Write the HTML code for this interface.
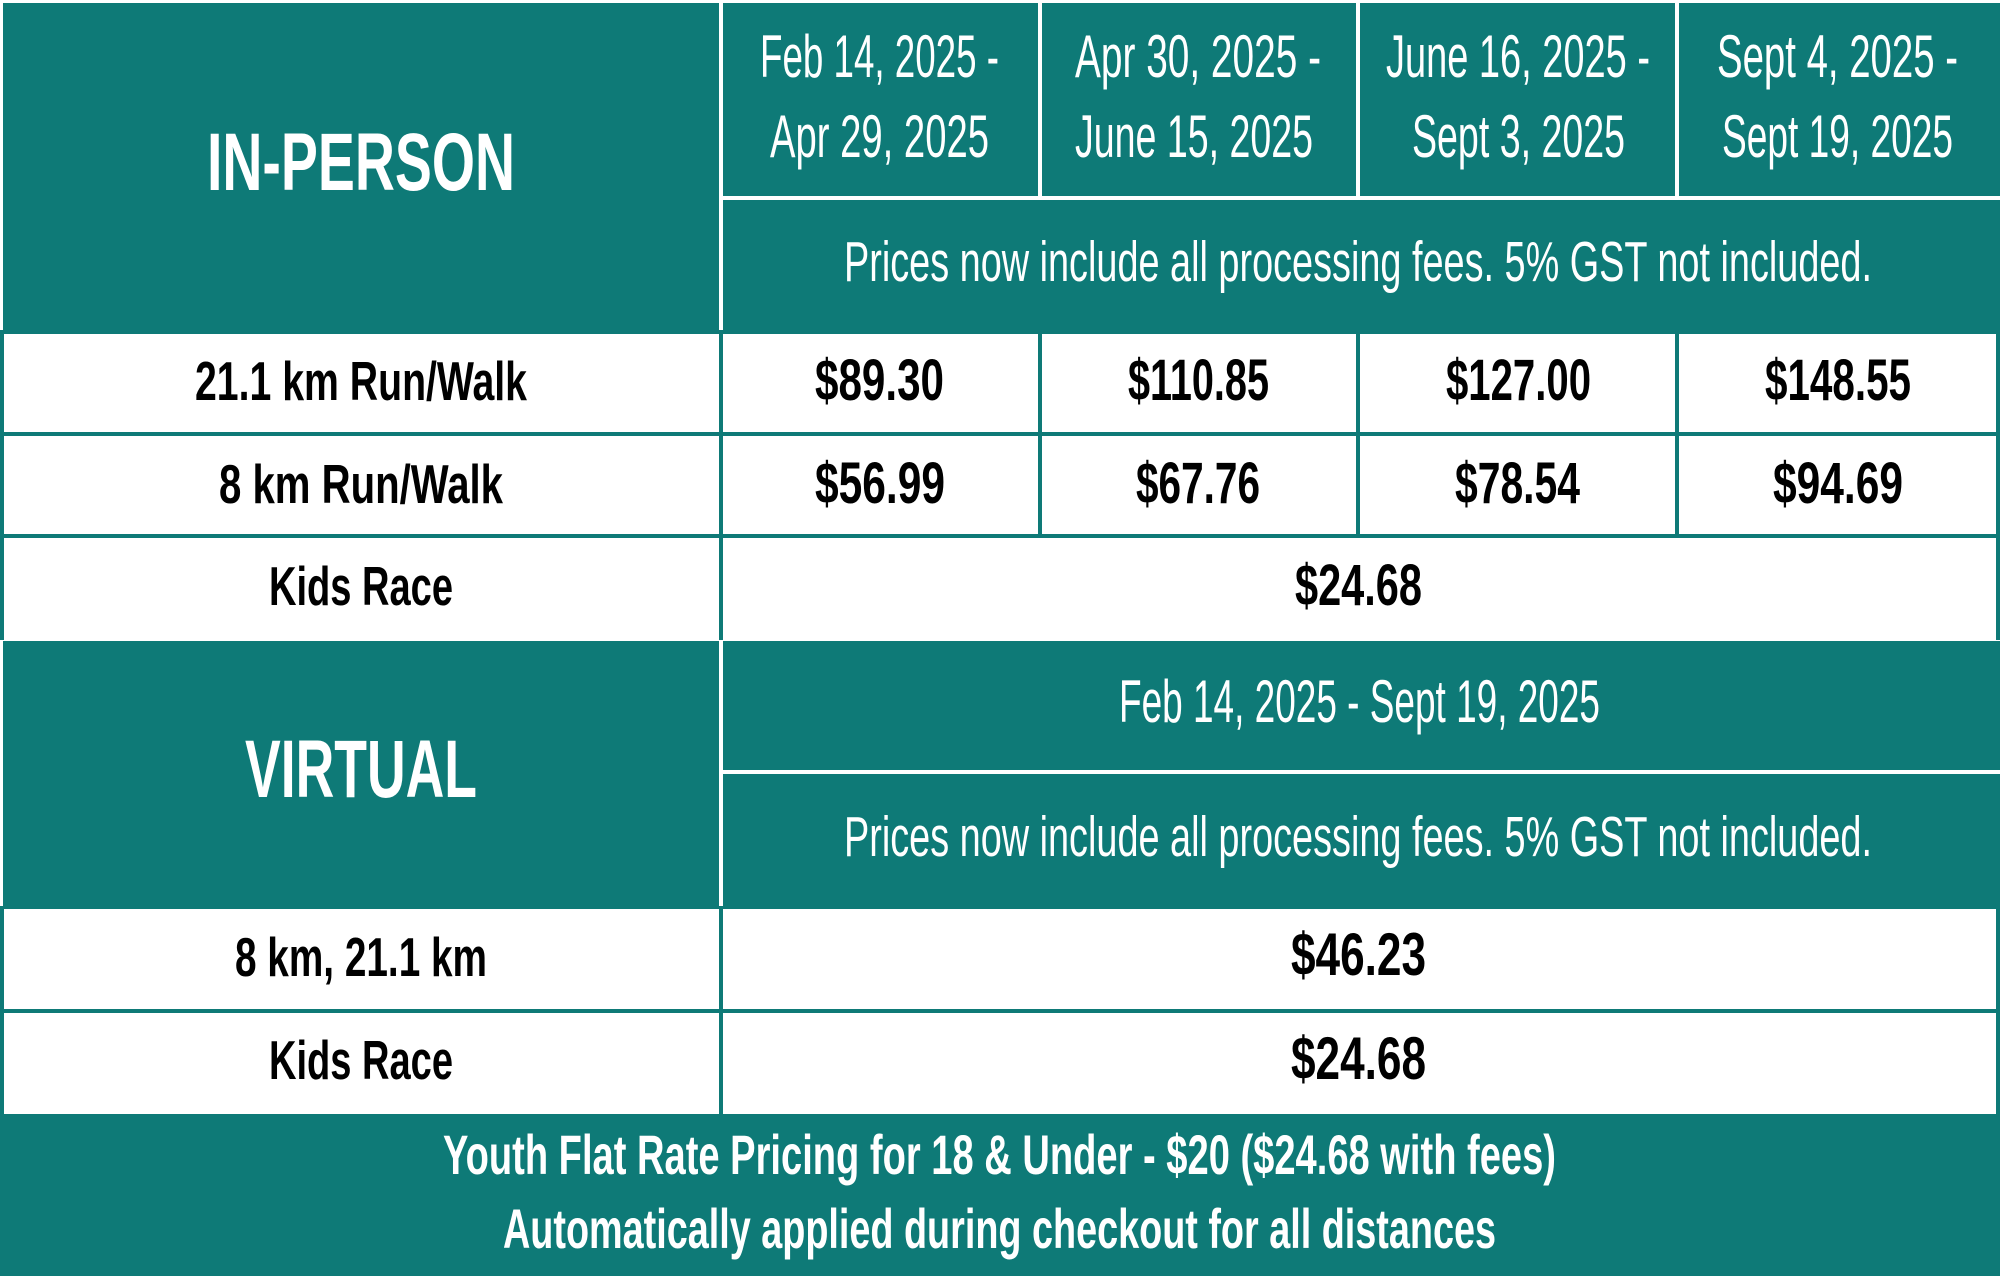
<!DOCTYPE html>
<html><head><meta charset="utf-8"><style>html,body{margin:0;padding:0;background:#fff}svg{display:block}text{font-family:"Liberation Sans",sans-serif}</style></head>
<body>
<svg width="2000" height="1276" viewBox="0 0 2000 1276" xmlns="http://www.w3.org/2000/svg">
<rect x="0" y="0" width="2000" height="1276" fill="#fff"/>
<!-- in-person header blocks -->
<rect x="3" y="3" width="716" height="327" fill="#0e7a77"/>
<rect x="723" y="3" width="315" height="193" fill="#0e7a77"/>
<rect x="1042" y="3" width="314" height="193" fill="#0e7a77"/>
<rect x="1360" y="3" width="315" height="193" fill="#0e7a77"/>
<rect x="1679" y="3" width="321" height="193" fill="#0e7a77"/>
<rect x="723" y="200" width="1277" height="130" fill="#0e7a77"/>
<!-- in-person white rows grid lines -->
<g fill="#0e7a77">
<rect x="0" y="330" width="2000" height="4"/>
<rect x="0" y="432" width="2000" height="4"/>
<rect x="0" y="534" width="2000" height="4"/>
<rect x="0" y="330" width="4" height="310"/>
<rect x="1996" y="330" width="4" height="310"/>
<rect x="719" y="330" width="4" height="310"/>
<rect x="1038" y="330" width="4" height="206"/>
<rect x="1356" y="330" width="4" height="206"/>
<rect x="1675" y="330" width="4" height="206"/>
</g>
<!-- virtual blocks -->
<rect x="3" y="641" width="716" height="265" fill="#0e7a77"/>
<rect x="723" y="641" width="1277" height="129" fill="#0e7a77"/>
<rect x="723" y="774" width="1277" height="132" fill="#0e7a77"/>
<g fill="#0e7a77">
<rect x="0" y="906" width="2000" height="3"/>
<rect x="0" y="1009" width="2000" height="4"/>
<rect x="0" y="906" width="4" height="210"/>
<rect x="1996" y="906" width="4" height="210"/>
<rect x="719" y="906" width="4" height="210"/>
</g>
<rect x="0" y="1114" width="2000" height="162" fill="#0e7a77"/>

<!-- header text -->
<g fill="#fff" font-size="60" lengthAdjust="spacingAndGlyphs">
<text x="760" y="77" textLength="239" lengthAdjust="spacingAndGlyphs">Feb 14, 2025 -</text>
<text x="770" y="157" textLength="219" lengthAdjust="spacingAndGlyphs">Apr 29, 2025</text>
<text x="1075" y="77" textLength="246" lengthAdjust="spacingAndGlyphs">Apr 30, 2025 -</text>
<text x="1075" y="157" textLength="238" lengthAdjust="spacingAndGlyphs">June 15, 2025</text>
<text x="1386" y="77" textLength="264" lengthAdjust="spacingAndGlyphs">June 16, 2025 -</text>
<text x="1412" y="157" textLength="213" lengthAdjust="spacingAndGlyphs">Sept 3, 2025</text>
<text x="1717" y="77" textLength="241" lengthAdjust="spacingAndGlyphs">Sept 4, 2025 -</text>
<text x="1722" y="157" textLength="231" lengthAdjust="spacingAndGlyphs">Sept 19, 2025</text>
<text x="844" y="281" font-size="57" textLength="1028" lengthAdjust="spacingAndGlyphs">Prices now include all processing fees. 5% GST not included.</text>
<text x="1119" y="722" textLength="481" lengthAdjust="spacingAndGlyphs">Feb 14, 2025 - Sept 19, 2025</text>
<text x="844" y="856" font-size="57" textLength="1028" lengthAdjust="spacingAndGlyphs">Prices now include all processing fees. 5% GST not included.</text>
</g>
<g fill="#fff" font-weight="bold">
<text x="207" y="190" font-size="82" textLength="308" lengthAdjust="spacingAndGlyphs">IN-PERSON</text>
<text x="245" y="797" font-size="82" textLength="232" lengthAdjust="spacingAndGlyphs">VIRTUAL</text>
<text x="443" y="1174" font-size="56" textLength="1113" lengthAdjust="spacingAndGlyphs">Youth Flat Rate Pricing for 18 &amp; Under - $20 ($24.68 with fees)</text>
<text x="503" y="1248" font-size="56" textLength="993" lengthAdjust="spacingAndGlyphs">Automatically applied during checkout for all distances</text>
</g>
<!-- row text -->
<g fill="#000" font-weight="bold" font-size="55">
<text x="195" y="400" textLength="332" lengthAdjust="spacingAndGlyphs">21.1 km Run/Walk</text>
<text x="815" y="400" font-size="58" textLength="129" lengthAdjust="spacingAndGlyphs">$89.30</text>
<text x="1128" y="400" font-size="58" textLength="141" lengthAdjust="spacingAndGlyphs">$110.85</text>
<text x="1446" y="400" font-size="58" textLength="145" lengthAdjust="spacingAndGlyphs">$127.00</text>
<text x="1765" y="400" font-size="58" textLength="146" lengthAdjust="spacingAndGlyphs">$148.55</text>
<text x="219" y="503" textLength="284" lengthAdjust="spacingAndGlyphs">8 km Run/Walk</text>
<text x="815" y="503" font-size="58" textLength="130" lengthAdjust="spacingAndGlyphs">$56.99</text>
<text x="1136" y="503" font-size="58" textLength="124" lengthAdjust="spacingAndGlyphs">$67.76</text>
<text x="1455" y="503" font-size="58" textLength="125" lengthAdjust="spacingAndGlyphs">$78.54</text>
<text x="1773" y="503" font-size="58" textLength="130" lengthAdjust="spacingAndGlyphs">$94.69</text>
<text x="269" y="605" textLength="184" lengthAdjust="spacingAndGlyphs">Kids Race</text>
<text x="1295" y="605" font-size="58" textLength="127" lengthAdjust="spacingAndGlyphs">$24.68</text>
<text x="235" y="976" textLength="252" lengthAdjust="spacingAndGlyphs">8 km, 21.1 km</text>
<text x="1291" y="975" font-size="60" textLength="135" lengthAdjust="spacingAndGlyphs">$46.23</text>
<text x="269" y="1079" textLength="184" lengthAdjust="spacingAndGlyphs">Kids Race</text>
<text x="1291" y="1079" font-size="60" textLength="135" lengthAdjust="spacingAndGlyphs">$24.68</text>
</g>
</svg>
</body></html>
